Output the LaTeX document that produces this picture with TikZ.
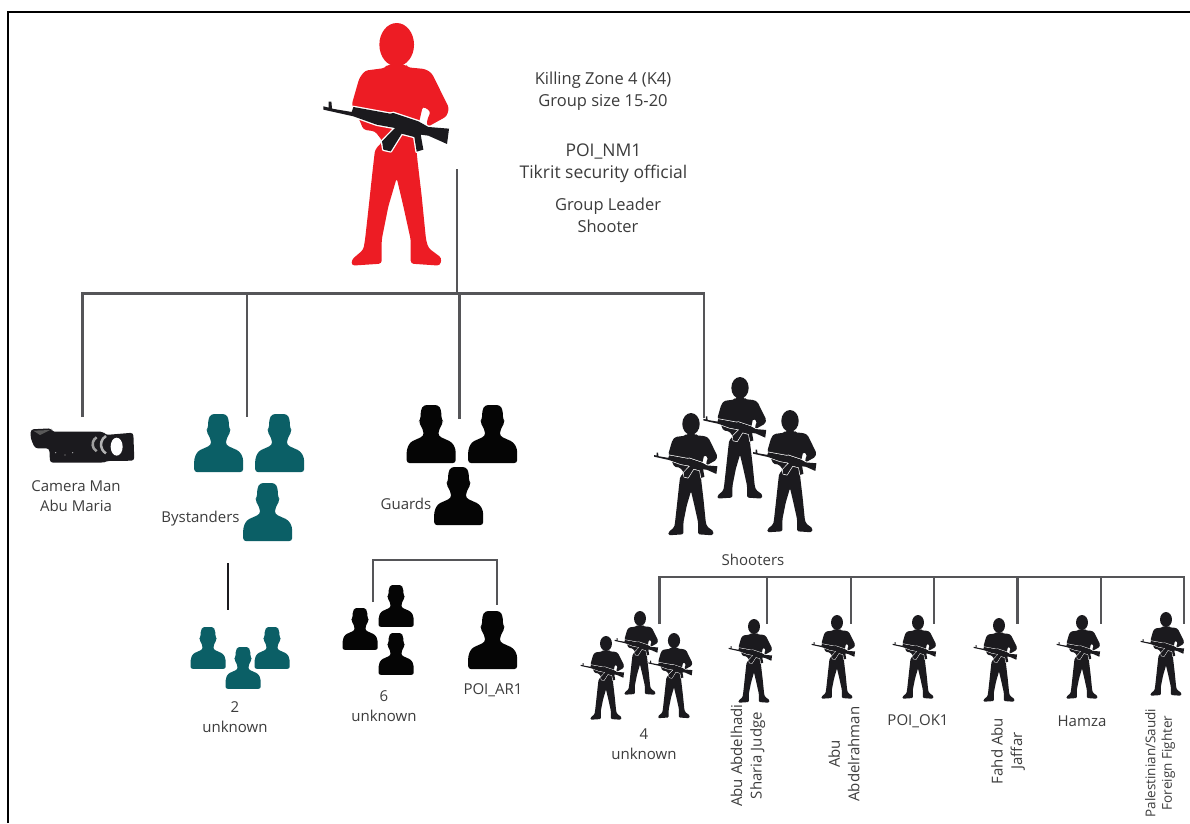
\documentclass[tikz,border=0pt]{standalone}
\usepackage{fontspec}
\setmainfont{Open Sans}
\definecolor{redfig}{HTML}{ED1C24}
\definecolor{inkfig}{HTML}{1B1A1E}
\definecolor{tealfig}{HTML}{0B5F66}
\definecolor{blackfig}{HTML}{050505}
\definecolor{linegrey}{HTML}{555558}
\definecolor{txtgrey}{HTML}{3C3C3C}
\tikzset{
  x=1pt,y=-1pt,
  conn/.style={draw=linegrey,line width=2.2pt},
  lbl/.style={inner sep=0pt,align=center,text=txtgrey,font=\fontsize{15}{20}\selectfont},
  lbltop/.style={lbl,font=\fontsize{16.5}{22}\selectfont},
  lblv/.style={lbl,rotate=90,font=\fontsize{15}{19.5}\selectfont},
  pics/gunman/.style={code={
    \begin{scope}[scale=#1]
      \path[pic actions] (0,65) ellipse [x radius=52,y radius=65];
      \path[pic actions,rounded corners=#1*9pt]
        (-28,125)--(-35,135)--(-95,143)--(-112,165)--(-125,210)--(-135,245)--(-110,295)--(-100,320)--(-65,325)
        --(-42,355)--(-65,380)--(-72,440)--(-85,560)--(-95,650)--(-100,680)--(-135,710)--(-135,728)--(-45,722)--(-45,650)--(-25,550)--(0,465)
        --(20,550)--(42,650)--(42,722)--(130,728)--(135,705)--(95,675)--(88,650)--(75,520)--(62,410)--(55,335)
        --(68,295)--(78,250)--(102,265)--(90,295)--(92,312)--(150,280)--(157,255)--(105,150)--(85,138)--(32,133)--(28,125)--cycle;
      \path[fill=inkfig,preaction={draw=white,line width=#1*8pt,line join=round}]
        (-220,250)--(-204,254)--(-204,236)--(-196,236)--(-194,257)--(-135,267)--(-130,252)
        --(-20,272)--(-10,270)--(65,295)--(95,312)--(157,317)--(151,363)--(95,338)--(72,335)
        --(80,380)--(60,386)--(53,342)--(15,332)--(-18,385)--(-40,380)--(-44,355)--(-5,315)
        --(-60,305)--(-130,280)--(-220,260)--cycle;
    \end{scope}}},
  pics/bust/.style={code={
    \begin{scope}[scale=#1]
      \path[pic actions,rounded corners=#1*9pt]
        (-22,0)--(22,0)--(30,14)--(31,42)--(37,50)--(28,64)--(22,80)--(22,92)--(62,110)--(73,130)--(73,172)
        --(-72,172)--(-72,132)--(-62,110)--(-22,92)--(-22,80)--(-28,64)--(-37,50)--(-31,42)--(-30,14)--cycle;
    \end{scope}}}
}
\begin{document}
\begin{tikzpicture}
\useasboundingbox (0,0) rectangle (1190,823);
\fill[white] (0,0) rectangle (1190,823);
% frame
\coordinate (frameBL) at (8,823);
\coordinate (frameTL) at (8,12);
\coordinate (frameTR) at (1190,12);
\draw[line width=2.6pt,line cap=butt] (frameBL)--(frameTL)--(frameTR);

% figures
\pic (leader)  [fill=redfig]  at (396.7,23) {gunman=0.3333};
\pic (shA)     [fill=inkfig]  at (740,377)  {gunman=0.167};
\pic (shB)     [fill=inkfig]  at (691,413)  {gunman=0.168};
\pic (shC)     [fill=inkfig]  at (790,410)  {gunman=0.168};
\pic (unkA)    [fill=inkfig]  at (640,611)  {gunman=0.115};
\pic (unkB)    [fill=inkfig]  at (606,636)  {gunman=0.115};
\pic (unkC)    [fill=inkfig]  at (674,633)  {gunman=0.117};
\pic (abdel)   [fill=inkfig]  at (754,619)  {gunman=0.115};
\pic (rahman)  [fill=inkfig]  at (837,615)  {gunman=0.115};
\pic (ok)      [fill=inkfig]  at (918,615)  {gunman=0.115};
\pic (fahd)    [fill=inkfig]  at (999,618)  {gunman=0.115};
\pic (hamza)   [fill=inkfig]  at (1082,615) {gunman=0.115};
\pic (pal)     [fill=inkfig]  at (1166,612) {gunman=0.115};

\pic (byA) [fill=tealfig] at (218.5,414) {bust=0.338};
\pic (byB) [fill=tealfig] at (279.5,414) {bust=0.338};
\pic (byC) [fill=tealfig] at (267.5,483) {bust=0.338};
\pic (tA)  [fill=tealfig] at (208,627) {bust=0.243};
\pic (tB)  [fill=tealfig] at (272,627) {bust=0.243};
\pic (tC)  [fill=tealfig] at (243,647) {bust=0.243};
\pic (gA)  [fill=blackfig] at (431,405) {bust=0.338};
\pic (gB)  [fill=blackfig] at (492.5,405) {bust=0.338};
\pic (gC)  [fill=blackfig] at (458.5,467) {bust=0.338};
\pic (uA)  [fill=blackfig] at (360,608) {bust=0.243};
\pic (uB)  [fill=blackfig] at (396,585) {bust=0.243};
\pic (uC)  [fill=blackfig] at (396,633) {bust=0.243};
\pic (ar)  [fill=blackfig] at (492.5,611) {bust=0.338};

% camera
\begin{scope}[shift={(0,400)},scale=0.3333]
  \fill[inkfig,rounded corners=3pt] (92,88)--(155,85)--(155,95)--(310,95)--(316,105)--(400,98)--(403,182)--(320,183)--(310,188)--(150,188)--(148,145)--(105,145)--(92,115)--cycle;
  \fill[gray!70!black] (100,92)--(150,90)--(120,105)--cycle;
  \draw[gray!75,line width=2.5pt] (290,112) arc [start angle=240,end angle=120,radius=24];
  \draw[gray!60,line width=2.5pt] (318,108) arc [start angle=240,end angle=120,radius=30];
  \fill[white] (350,140) ellipse [x radius=18,y radius=27];
  \fill[gray!70] (167,158) circle (2) (195,165) circle (2) (218,158) circle (2);
\end{scope}

% connectors
\coordinate (top)  at (457,169);
\coordinate (hub)  at (457,293.5);
\coordinate (barL) at (82.5,293.5);
\coordinate (barR) at (704,293.5);
\coordinate (dCam) at (82.5,417);
\coordinate (jBy)  at (247,293.5);
\coordinate (dBy)  at (247,417);
\coordinate (jGu)  at (459.5,293.5);
\coordinate (dGu)  at (459.5,419);
\coordinate (dSh)  at (704,418);
\draw[conn] (top)--(hub);
\draw[conn] (dCam)--(barL)--(barR)--(dSh);
\draw[conn] (jBy)--(dBy);
\draw[conn] (jGu)--(dGu);

\coordinate (tealTop) at (228,563);
\coordinate (tealBot) at (228,610);
\draw[draw=inkfig,line width=2pt] (tealTop)--(tealBot);

\coordinate (grL) at (373,602);
\coordinate (grTL) at (373,560);
\coordinate (grTR) at (497,560);
\coordinate (grR) at (497,605);
\draw[conn] (grL)--(grTL)--(grTR)--(grR);

\coordinate (sL)  at (659.5,624);
\coordinate (sTL) at (659.5,577);
\coordinate (sTR) at (1184,577);
\coordinate (sR)  at (1184,624);
\draw[conn] (sL)--(sTL)--(sTR)--(sR);
\foreach \n/\x in {a/767,b/851,c/934,d/1017.5,e/1101}{
  \coordinate (j\n) at (\x,577);
  \coordinate (e\n) at (\x,624);
  \draw[conn] (j\n)--(e\n);
}

% labels
\node[lbltop] (tZone) at (603,91) {Killing Zone 4 (K4)\\Group size 15-20};
\node[lbltop,font=\fontsize{17.5}{22}\selectfont] (tPoi)  at (603.5,163) {POI\_NM1\\Tikrit security official};
\node[lbltop] (tLead) at (608,215) {Group Leader\\Shooter};
\node[lbl] (tCam)  at (76,496) {Camera Man\\Abu Maria};
\node[lbl] (tBy)   at (200.5,519) {Bystanders};
\node[lbl] (tGu)   at (406,504) {Guards};
\node[lbl] (t2)    at (235,717) {2\\unknown};
\node[lbl] (t6)    at (384,706) {6\\unknown};
\node[lbl] (tAr)   at (493,690) {POI\_AR1};
\node[lbl] (tSh)   at (753,560) {Shooters};
\node[lbl] (t4)    at (644,744.5) {4\\unknown};
\node[lblv] (tAbd) at (748,755.5) {Abu Abdelhadi\\Sharia Judge};
\node[lblv] (tRah) at (844,754) {Abu\\Abdelrahman};
\node[lbl] (tOk)   at (918,721) {POI\_OK1};
\node[lblv] (tFa)  at (1008,751) {Fahd Abu\\Jaffar};
\node[lbl] (tHa)   at (1082,721) {Hamza};
\node[lblv,font=\fontsize{13.5}{16.5}\selectfont] (tPal) at (1160,763) {Palestinian/Saudi\\Foreign Fighter};
\end{tikzpicture}
\end{document}
